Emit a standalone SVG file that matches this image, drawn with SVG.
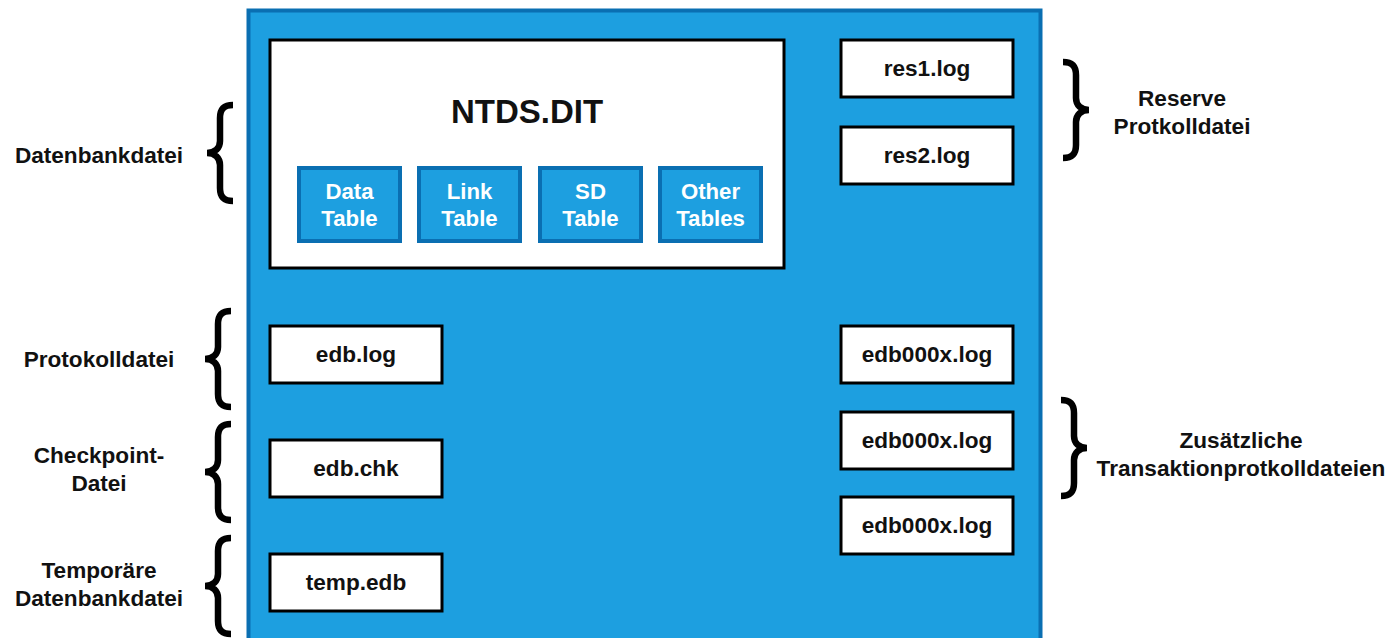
<svg xmlns="http://www.w3.org/2000/svg" width="1389" height="638" viewBox="0 0 1389 638">
<style>
.lbl{font-family:"Liberation Sans",Arial,sans-serif;font-weight:bold;font-size:22.6px;fill:#111;text-anchor:middle}
.box{fill:#fff;stroke:#000;stroke-width:3}
.tbl{fill:#1d9fe0;stroke:#0a6fb2;stroke-width:4}
.tt{font-family:"Liberation Sans",Arial,sans-serif;font-weight:bold;font-size:22.2px;fill:#fff;text-anchor:middle}
.brace{fill:none;stroke:#000;stroke-width:6.5}
</style>
<defs>
<path id="brace" class="brace" d="M 28 2 C 19 2 15 6 15 15 L 15 38 C 15 45 10 50 2 50 C 10 50 15 55 15 62 L 15 85 C 15 94 19 98 28 98"/>
</defs>
<rect width="1389" height="638" fill="#fff"/>
<g id="container">
<rect x="248.5" y="10.5" width="792" height="640" fill="#1d9fe0" stroke="#0a6fb2" stroke-width="4"/>
</g>
<g id="ntds">
<rect class="box" x="270" y="40" width="514" height="228" stroke-width="3.5"/>
<text class="lbl" x="527" y="123" style="font-size:33px">NTDS.DIT</text>
</g>
<g id="datatable">
<rect class="tbl" x="299" y="168" width="101" height="73"/>
<text class="tt" x="349.5" y="199">Data</text>
<text class="tt" x="349.5" y="226">Table</text>
</g>
<g id="linktable">
<rect class="tbl" x="419" y="168" width="101" height="73"/>
<text class="tt" x="469.5" y="199">Link</text>
<text class="tt" x="469.5" y="226">Table</text>
</g>
<g id="sdtable">
<rect class="tbl" x="540" y="168" width="101" height="73"/>
<text class="tt" x="590.5" y="199">SD</text>
<text class="tt" x="590.5" y="226">Table</text>
</g>
<g id="othertables">
<rect class="tbl" x="660" y="168" width="101" height="73"/>
<text class="tt" x="710.5" y="199">Other</text>
<text class="tt" x="710.5" y="226">Tables</text>
</g>
<g id="res1"><rect class="box" x="841" y="40" width="172" height="57"/><text class="lbl" x="927" y="76">res1.log</text></g>
<g id="res2"><rect class="box" x="841" y="127" width="172" height="57"/><text class="lbl" x="927" y="163">res2.log</text></g>
<g id="edblog"><rect class="box" x="270" y="326" width="172" height="57"/><text class="lbl" x="356" y="362">edb.log</text></g>
<g id="edbchk"><rect class="box" x="270" y="440" width="172" height="57"/><text class="lbl" x="356" y="476">edb.chk</text></g>
<g id="tempedb"><rect class="box" x="270" y="554" width="172" height="57"/><text class="lbl" x="356" y="590">temp.edb</text></g>
<g id="edb1"><rect class="box" x="841" y="326" width="172" height="57"/><text class="lbl" x="927" y="362">edb000x.log</text></g>
<g id="edb2"><rect class="box" x="841" y="412" width="172" height="57"/><text class="lbl" x="927" y="448">edb000x.log</text></g>
<g id="edb3"><rect class="box" x="841" y="497" width="172" height="57"/><text class="lbl" x="927" y="533">edb000x.log</text></g>
<g id="braces">
<use href="#brace" transform="translate(205,103)"/>
<use href="#brace" transform="translate(203,309)"/>
<use href="#brace" transform="translate(203,422)"/>
<use href="#brace" transform="translate(203,536)"/>
<use href="#brace" transform="translate(1091,60) scale(-1,1)"/>
<use href="#brace" transform="translate(1089,398) scale(-1,1)"/>
</g>
<g id="labels">
<text class="lbl" x="99" y="163">Datenbankdatei</text>
<text class="lbl" x="99" y="367">Protokolldatei</text>
<text class="lbl" x="99" y="463">Checkpoint-</text>
<text class="lbl" x="99" y="491">Datei</text>
<text class="lbl" x="99" y="578">Temporäre</text>
<text class="lbl" x="99" y="606">Datenbankdatei</text>
<text class="lbl" x="1182" y="106">Reserve</text>
<text class="lbl" x="1182" y="134">Protkolldatei</text>
<text class="lbl" x="1241" y="448">Zusätzliche</text>
<text class="lbl" x="1241" y="476">Transaktionprotkolldateien</text>
</g>
</svg>
